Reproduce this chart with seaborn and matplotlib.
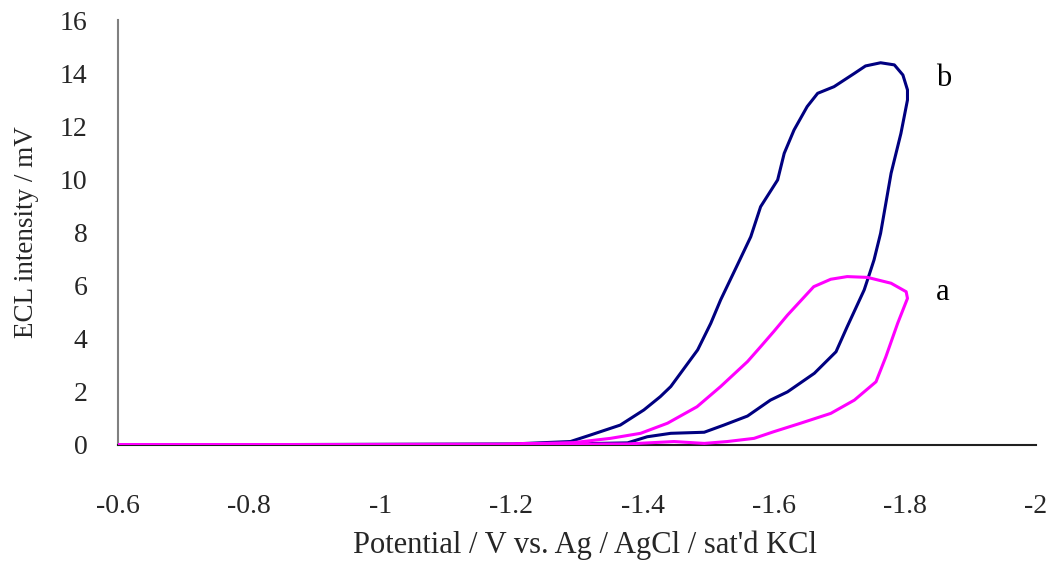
import matplotlib
matplotlib.use("Agg")
import matplotlib.pyplot as plt
import seaborn as sns
import pandas as pd
import numpy as np

# ---- data ----
potential_b = [-0.60, -1.20, -1.377, -1.407, -1.443, -1.494, -1.524, -1.560, -1.595, -1.621,
               -1.662, -1.695, -1.712, -1.738, -1.748, -1.753, -1.763, -1.779, -1.794, -1.804,
               -1.804, -1.797, -1.784, -1.763, -1.740, -1.723, -1.692, -1.667, -1.651, -1.631,
               -1.616, -1.606, -1.580, -1.565, -1.545, -1.519, -1.504, -1.484, -1.443, -1.427,
               -1.402, -1.366, -1.321, -1.290, -1.203, -0.60]
intensity_b = [0.0, 0.0, 0.08, 0.31, 0.44, 0.48, 0.75, 1.09, 1.69, 2.00,
               2.70, 3.51, 4.45, 5.84, 6.59, 6.97, 7.97, 10.23, 11.73, 12.99,
               13.37, 13.93, 14.31, 14.39, 14.27, 13.99, 13.49, 13.24, 12.74, 11.86,
               10.98, 9.98, 8.97, 7.84, 6.80, 5.46, 4.58, 3.58, 2.20, 1.82,
               1.32, 0.75, 0.38, 0.13, 0.04, 0.0]

potential_a = [-0.60, -1.377, -1.448, -1.494, -1.529, -1.570, -1.600, -1.641, -1.687, -1.723,
               -1.756, -1.771, -1.789, -1.804, -1.802, -1.779, -1.743, -1.712, -1.687, -1.661,
               -1.621, -1.600, -1.580, -1.560, -1.519, -1.483, -1.438, -1.397, -1.351, -1.295,
               -1.153, -0.60]
intensity_a = [0.0, 0.04, 0.13, 0.06, 0.13, 0.25, 0.50, 0.82, 1.19, 1.69,
               2.38, 3.32, 4.58, 5.52, 5.77, 6.09, 6.31, 6.34, 6.24, 5.96,
               4.89, 4.27, 3.70, 3.14, 2.20, 1.44, 0.82, 0.44, 0.25, 0.09,
               0.0, 0.0]

x_ticks = [-0.6, -0.8, -1.0, -1.2, -1.4, -1.6, -1.8, -2.0]
x_tick_labels = ["-0.6", "-0.8", "-1", "-1.2", "-1.4", "-1.6", "-1.8", "-2"]
y_ticks = [0, 2, 4, 6, 8, 10, 12, 14, 16]
series_labels = ["b", "a"]
label_pos = [(-1.859, 13.8), (-1.857, 5.75)]

df = pd.concat([
    pd.DataFrame({"E": potential_b, "I": intensity_b, "s": "b"}),
    pd.DataFrame({"E": potential_a, "I": intensity_a, "s": "a"}),
])

sns.set_style("white")
plt.rcParams["font.family"] = ["Liberation Serif", "DejaVu Serif"]

fig = plt.figure(figsize=(10.54, 5.65), dpi=100)
ax = fig.add_axes([118/1054, 1-445/565, (1036-118)/1054, (445-20)/565])

sns.lineplot(data=df, x="E", y="I", hue="s", hue_order=["b", "a"],
             palette={"b": "#000080", "a": "#FF00FF"},
             sort=False, estimator=None, units="s", linewidth=2.2, legend=False, ax=ax)
# magenta trace on top (it covers the navy baseline)
for ln in ax.lines:
    if matplotlib.colors.to_hex(ln.get_color()).lower() == "#ff00ff":
        ln.set_zorder(3)

ax.set_xlim(-0.6, -2.0)
ax.set_ylim(0, 16)
ax.set_xticks(x_ticks)
ax.set_xticklabels(x_tick_labels)
ax.set_yticks(y_ticks)
for sp in ["top", "right"]:
    ax.spines[sp].set_visible(False)
ax.spines["left"].set_color("#808080")
ax.spines["bottom"].set_color("#202020")
ax.spines["left"].set_linewidth(1.5)
ax.spines["bottom"].set_linewidth(1.5)
ax.tick_params(axis="x", direction="in", length=7, width=1, color="#404040", pad=35, labelsize=20)
ax.tick_params(axis="y", direction="in", length=7, width=1, color="#404040", pad=22, labelsize=20)

ax.set_xlabel("Potential / V vs. Ag / AgCl / sat'd KCl", fontsize=22)
ax.set_ylabel("ECL intensity / mV", fontsize=19.5)
ax.xaxis.set_label_coords((585-118)/918, (445-545)/425)
ax.xaxis.label.set_va("center")
ax.yaxis.set_label_coords((27-118)/918, 0.5)
ax.yaxis.label.set_va("center")

for lab, (xx, yy) in zip(series_labels, label_pos):
    ax.text(xx, yy, lab, fontsize=22, ha="center", va="center", color="black")

fig.savefig("out.png", dpi=100)
